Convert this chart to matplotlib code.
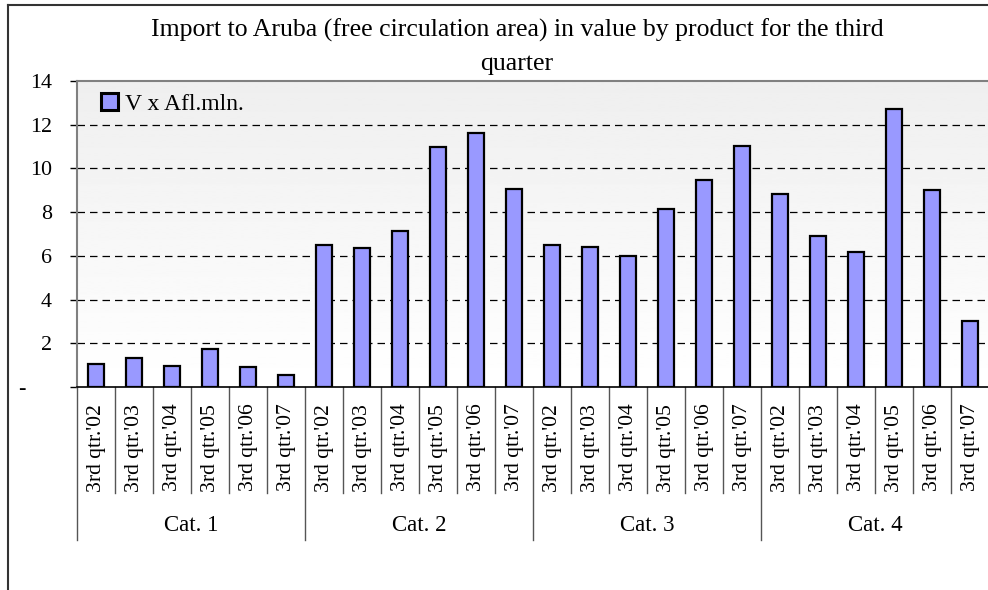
import matplotlib
matplotlib.use("Agg")
import matplotlib.pyplot as plt
import matplotlib.transforms as mtransforms
from matplotlib.lines import Line2D
import numpy as np

plt.rcParams['font.family'] = ['Liberation Serif', 'DejaVu Serif']

categories = ['Cat. 1', 'Cat. 2', 'Cat. 3', 'Cat. 4']
quarters = ["3rd qtr.'02", "3rd qtr.'03", "3rd qtr.'04", "3rd qtr.'05", "3rd qtr.'06", "3rd qtr.'07"]
cat1 = [1.07, 1.31, 0.98, 1.73, 0.90, 0.56]
cat2 = [6.48, 6.37, 7.13, 10.99, 11.63, 9.05]
cat3 = [6.49, 6.41, 6.00, 8.13, 9.47, 11.04]
cat4 = [8.83, 6.91, 6.16, 12.70, 9.01, 3.03]
series_name = 'V x Afl.mln.'
yticks = [0, 2, 4, 6, 8, 10, 12, 14]
ytick_labels = ['-', '2', '4', '6', '8', '10', '12', '14']

values = cat1 + cat2 + cat3 + cat4
labels = quarters * len(categories)
x = np.arange(len(values))

fig = plt.figure(figsize=(9.88, 5.90), dpi=100)
ax = fig.add_axes([77 / 988, 1 - 387 / 590, 912 / 988, 306 / 590])

# gradient background of plot area
grad = np.linspace(1.0, 0.935, 256).reshape(-1, 1)
ax.imshow(grad, cmap='gray', vmin=0, vmax=1, aspect='auto',
          extent=[-0.5, len(values) - 0.5, 0, 14], origin='lower', zorder=0)

ax.bar(x, values, width=0.42, color='#9999ff', edgecolor='black', linewidth=1.6,
       zorder=3, label=series_name)

ax.set_xlim(-0.5, len(values) - 0.5)
ax.set_ylim(0, 14)
ax.set_yticks(yticks)
ax.set_yticklabels(ytick_labels, fontsize=15.8)
ax.tick_params(axis='y', length=5, width=1, color='black', pad=13)
# zero label sits further left
zl = ax.get_yticklabels()[0]
zl.set_transform(zl.get_transform() + mtransforms.ScaledTranslation(-0.27, 0, fig.dpi_scale_trans))

ax.set_xticks(x)
ax.set_xticklabels(labels, rotation=90, fontsize=15.6, va='top')
ax.tick_params(axis='x', length=0, pad=12)

for y in yticks[1:-1]:
    ax.axhline(y, color='black', linestyle=(0, (6, 4)), linewidth=0.9, zorder=1)

ax.spines['left'].set_color('#808080')
ax.spines['left'].set_linewidth(1.5)
ax.spines['top'].set_color('#808080')
ax.spines['top'].set_linewidth(1.5)
ax.spines['right'].set_visible(False)
ax.spines['bottom'].set_color('black')
ax.spines['bottom'].set_linewidth(1.2)
ax.spines['bottom'].set_zorder(4)

# category axis separators
trans = mtransforms.blended_transform_factory(ax.transData, ax.transAxes)
for i in range(len(values) + 1):
    depth = -0.5 if i % len(quarters) == 0 else -0.346
    ax.plot([i - 0.5, i - 0.5], [0, depth], color='#555555', linewidth=1,
            transform=trans, clip_on=False)
for k, cat in enumerate(categories):
    cx = k * len(quarters) + (len(quarters) - 1) / 2
    ax.text(cx, -0.451, cat, transform=trans, ha='center', va='center', fontsize=16.5)

leg = ax.legend(loc='center left', bbox_to_anchor=(0.026, 1 - 23 / 306), fontsize=17,
                frameon=False, handlelength=0.72, handleheight=0.72, handletextpad=0.3,
                borderpad=0.0, borderaxespad=0.0)
for h in leg.legend_handles:
    h.set_linewidth(2.2)

fig.text(517 / 988, 1 - 30 / 590,
         'Import to Aruba (free circulation area) in value by product for the third',
         ha='center', va='center', fontsize=18.5)
fig.text(517 / 988, 1 - 64 / 590, 'quarter', ha='center', va='center', fontsize=18.5)

# outer chart frame
fig.add_artist(Line2D([8 / 988, 8 / 988], [0, 1 - 5 / 590], color='#333333', linewidth=1.5))
fig.add_artist(Line2D([8 / 988, 1], [1 - 5 / 590, 1 - 5 / 590], color='#333333', linewidth=1.5))

fig.savefig('out.png', dpi=100)
